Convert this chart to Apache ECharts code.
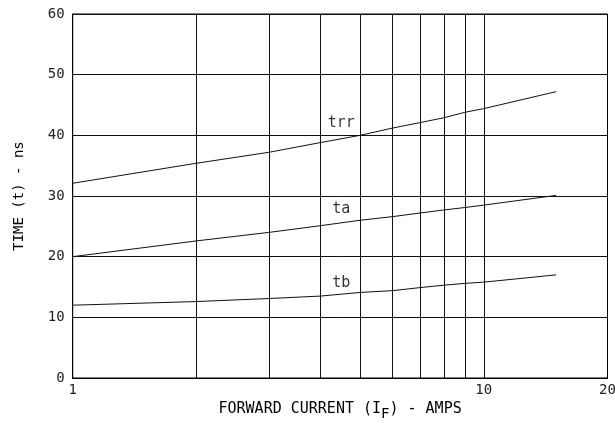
<!DOCTYPE html>
<html><head><meta charset="utf-8">
<script src="https://cdn.jsdelivr.net/npm/echarts@6/dist/echarts.min.js"></script>
<style>html,body{margin:0;padding:0;background:#fff}#c{width:615px;height:426px}</style>
</head><body><div id="c"></div>
<script>
const current = [1, 2, 3, 4, 5, 6, 7, 8, 9, 10, 15];
const trr = [32.1, 35.4, 37.2, 38.8, 40.0, 41.2, 42.1, 42.9, 43.8, 44.4, 47.2];
const ta  = [20.0, 22.6, 24.0, 25.1, 26.0, 26.6, 27.2, 27.7, 28.1, 28.5, 30.1];
const tb  = [12.0, 12.6, 13.1, 13.5, 14.1, 14.4, 14.9, 15.3, 15.6, 15.8, 17.0];
const gridX = [2, 3, 4, 5, 6, 7, 8, 9, 10];
const curveLabels = [
  { name: 'trr', x: 4.5, y: 42.0 },
  { name: 'ta',  x: 4.5, y: 27.8 },
  { name: 'tb',  x: 4.5, y: 15.6 }
];
const xTitle = ['FORWARD CURRENT (I', 'F', ') - AMPS'];
const yTitle = 'TIME (t) - ns';

const FONT = 'DejaVu Sans Mono';
const pairs = arr => current.map((c, i) => [c, arr[i]]);
const lineSeries = (arr) => ({
  type: 'line', data: pairs(arr), showSymbol: false, smooth: false,
  lineStyle: { color: '#111', width: 1 }, silent: true, z: 3
});

const chart = echarts.init(document.getElementById('c'), null, { renderer: 'canvas' });
chart.setOption({
  animation: false,
  backgroundColor: '#fff',
  grid: { left: 72.7, right: 7.5, top: 14, bottom: 48, show: true, borderColor: '#000', borderWidth: 1,
    containLabel: false, outerBoundsMode: 'none' },
  xAxis: {
    type: 'log', logBase: 10, min: 1, max: 20,
    name: xTitle[0] + '{sub|' + xTitle[1] + '}' + xTitle[2],
    nameLocation: 'middle', nameGap: 19,
    nameTextStyle: {
      fontFamily: FONT, fontSize: 15, color: '#000',
      rich: { sub: { fontFamily: FONT, fontSize: 14, color: '#000', padding: [10, 0, 0, 0] } }
    },
    axisLine: { show: true, lineStyle: { color: '#000', width: 1 } },
    axisTick: { show: false },
    splitLine: { show: false },
    minorTick: { show: false },
    axisLabel: { fontFamily: FONT, fontSize: 14, color: '#222', margin: 5, showMaxLabel: true, showMinLabel: true }
  },
  yAxis: {
    type: 'value', min: 0, max: 60, interval: 10,
    name: yTitle, nameLocation: 'middle', nameGap: 46,
    nameTextStyle: { fontFamily: FONT, fontSize: 14, color: '#000' },
    axisLine: { show: true, lineStyle: { color: '#000', width: 1 } },
    axisTick: { show: false },
    splitLine: { show: true, lineStyle: { color: '#111', width: 1 } },
    axisLabel: { fontFamily: FONT, fontSize: 14, color: '#222', margin: 8 }
  },
  series: [
    Object.assign(lineSeries(trr), {
      markLine: {
        silent: true, symbol: 'none', label: { show: false },
        lineStyle: { color: '#111', width: 1, type: 'solid' },
        data: gridX.map(v => ({ xAxis: v }))
      }
    }),
    lineSeries(ta),
    lineSeries(tb),
    {
      type: 'scatter', symbolSize: 0, silent: true, z: 4,
      data: curveLabels.map(l => ({ value: [l.x, l.y], name: l.name })),
      label: { show: true, position: 'inside', formatter: p => p.name,
        fontFamily: FONT, fontSize: 15, color: '#000' }
    }
  ]
});
</script></body></html>
